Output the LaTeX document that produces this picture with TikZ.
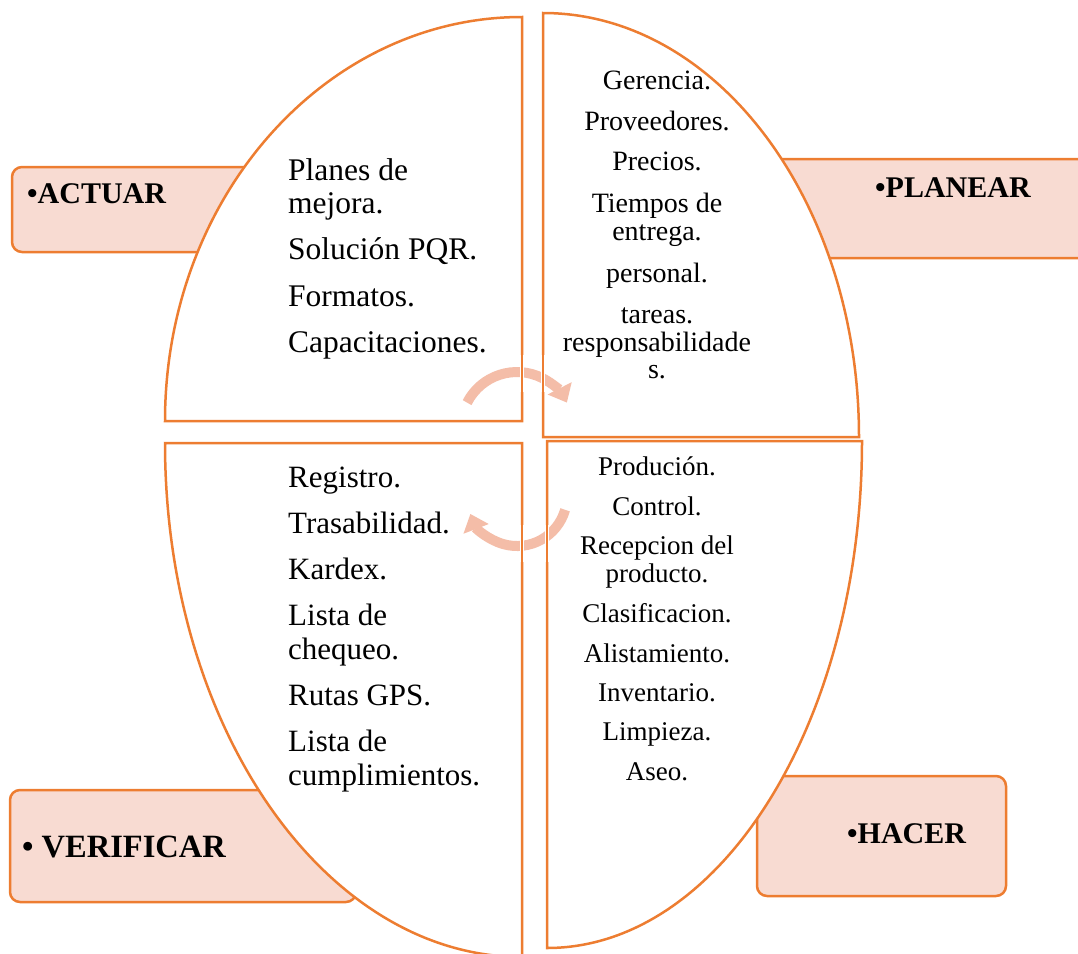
\documentclass[tikz,border=0pt]{standalone}
\usepackage{fontspec}
\setmainfont{Liberation Serif}
\usetikzlibrary{arrows.meta}
\definecolor{orng}{HTML}{ED7D31}
\definecolor{pinkfill}{HTML}{F8DBD2}
\definecolor{arrowpink}{HTML}{F4BDA8}
\begin{document}
\begin{tikzpicture}[x=1pt,y=-1pt,
  quad/.style={draw=orng, line width=2.5pt, fill=white},
  labelbox/.style={draw=orng, line width=2.5pt, fill=pinkfill, rounded corners=10pt},
  cyc/.style={draw=arrowpink, line width=10pt, -{Triangle[width=26pt,length=16pt]}},
  halo/.style={draw=white, line width=4.5pt},
  edge/.style={draw=orng, line width=2.5pt},
  ltxt/.style={anchor=base west, inner sep=0pt, font=\fontsize{31.5}{36}\selectfont},
  lbtxt/.style={anchor=base west, inner sep=0pt, font=\fontsize{31}{36}\selectfont},
  rtxt/.style={anchor=base, inner sep=0pt, font=\fontsize{28}{32}\selectfont},
  htxt/.style={anchor=base, inner sep=0pt, font=\fontsize{27}{32}\selectfont},
  lbl/.style={anchor=base west, inner sep=0pt, font=\fontsize{30}{36}\selectfont\bfseries}]
\useasboundingbox (0,0) rectangle (1078,953);
\clip (0,0) rectangle (1078,953);

% label boxes
\draw[labelbox] (12,167) rectangle (320,252);
\draw[labelbox] (700,159) rectangle (1100,258);
\draw[labelbox] (10,790) rectangle (356,902);
\draw[labelbox] (757,776) rectangle (1006,896);

% quadrants
\path[quad] (522,421) -- (165,421) arc[start angle=180,end angle=90,x radius=357pt,y radius=404pt] -- cycle;
\path[quad] (543,437) -- (543,13) arc[start angle=90,end angle=0,x radius=316pt,y radius=424pt] -- cycle;
\path[quad] (522,443) -- (165,443) arc[start angle=180,end angle=270,x radius=357pt,y radius=514pt] -- cycle;
\path[quad] (547,441) -- (862,441) arc[start angle=0,end angle=-90,x radius=315pt,y radius=507pt] -- cycle;

% cycle arrows
\draw[cyc] (467.1,402.6) arc[start angle=153,end angle=27,radius=56pt];
\draw[cyc] (565.1,509.8) arc[start angle=-16,end angle=-159,radius=50pt];

% quadrant edges over arrows
\foreach \a/\b/\c in {522/355/392, 543/355/392, 522/525/562, 547/525/562}{
  \draw[halo] (\a,\b) -- (\a,\c);
  \draw[edge] (\a,\b) -- (\a,\c);
}

% labels
\node[lbl] (actuar) at (27,203) {•ACTUAR};
\node[lbl] (planear) at (875,197) {•PLANEAR};
\node[lbl, font=\fontsize{32.5}{36}\selectfont\bfseries] (verificar) at (22,857) {• VERIFICAR};
\node[lbl] (hacer) at (847,843) {•HACER};

% top-left text
\node[ltxt] (a1) at (288,180) {Planes de};
\node[ltxt] (a2) at (288,213) {mejora.};
\node[ltxt] (a3) at (288,259) {Solución PQR.};
\node[ltxt] (a4) at (288,306) {Formatos.};
\node[ltxt] (a5) at (288,352) {Capacitaciones.};

% top-right text
\node[rtxt] (p1) at (657,89) {Gerencia.};
\node[rtxt] (p2) at (657,130) {Proveedores.};
\node[rtxt] (p3) at (657,170) {Precios.};
\node[rtxt] (p4) at (657,212) {Tiempos de};
\node[rtxt] (p5) at (657,240) {entrega.};
\node[rtxt] (p6) at (657,282) {personal.};
\node[rtxt] (p7) at (657,323) {tareas.};
\node[rtxt] (p8) at (657,351) {responsabilidade};
\node[rtxt] (p9) at (657,378) {s.};

% bottom-left text
\node[lbtxt] (v1) at (288,487) {Registro.};
\node[lbtxt] (v2) at (288,533) {Trasabilidad.};
\node[lbtxt] (v3) at (288,579) {Kardex.};
\node[lbtxt] (v4) at (288,625) {Lista de};
\node[lbtxt] (v5) at (288,659) {chequeo.};
\node[lbtxt] (v6) at (288,705) {Rutas GPS.};
\node[lbtxt] (v7) at (288,751) {Lista de};
\node[lbtxt] (v8) at (288,785) {cumplimientos.};

% bottom-right text
\node[htxt] (h1) at (657,475) {Produción.};
\node[htxt] (h2) at (657,515) {Control.};
\node[htxt] (h3) at (657,554) {Recepcion del};
\node[htxt] (h4) at (657,582) {producto.};
\node[htxt] (h5) at (657,622) {Clasificacion.};
\node[htxt] (h6) at (657,662) {Alistamiento.};
\node[htxt] (h7) at (657,701) {Inventario.};
\node[htxt] (h8) at (657,740) {Limpieza.};
\node[htxt] (h9) at (657,780) {Aseo.};
\end{tikzpicture}
\end{document}
